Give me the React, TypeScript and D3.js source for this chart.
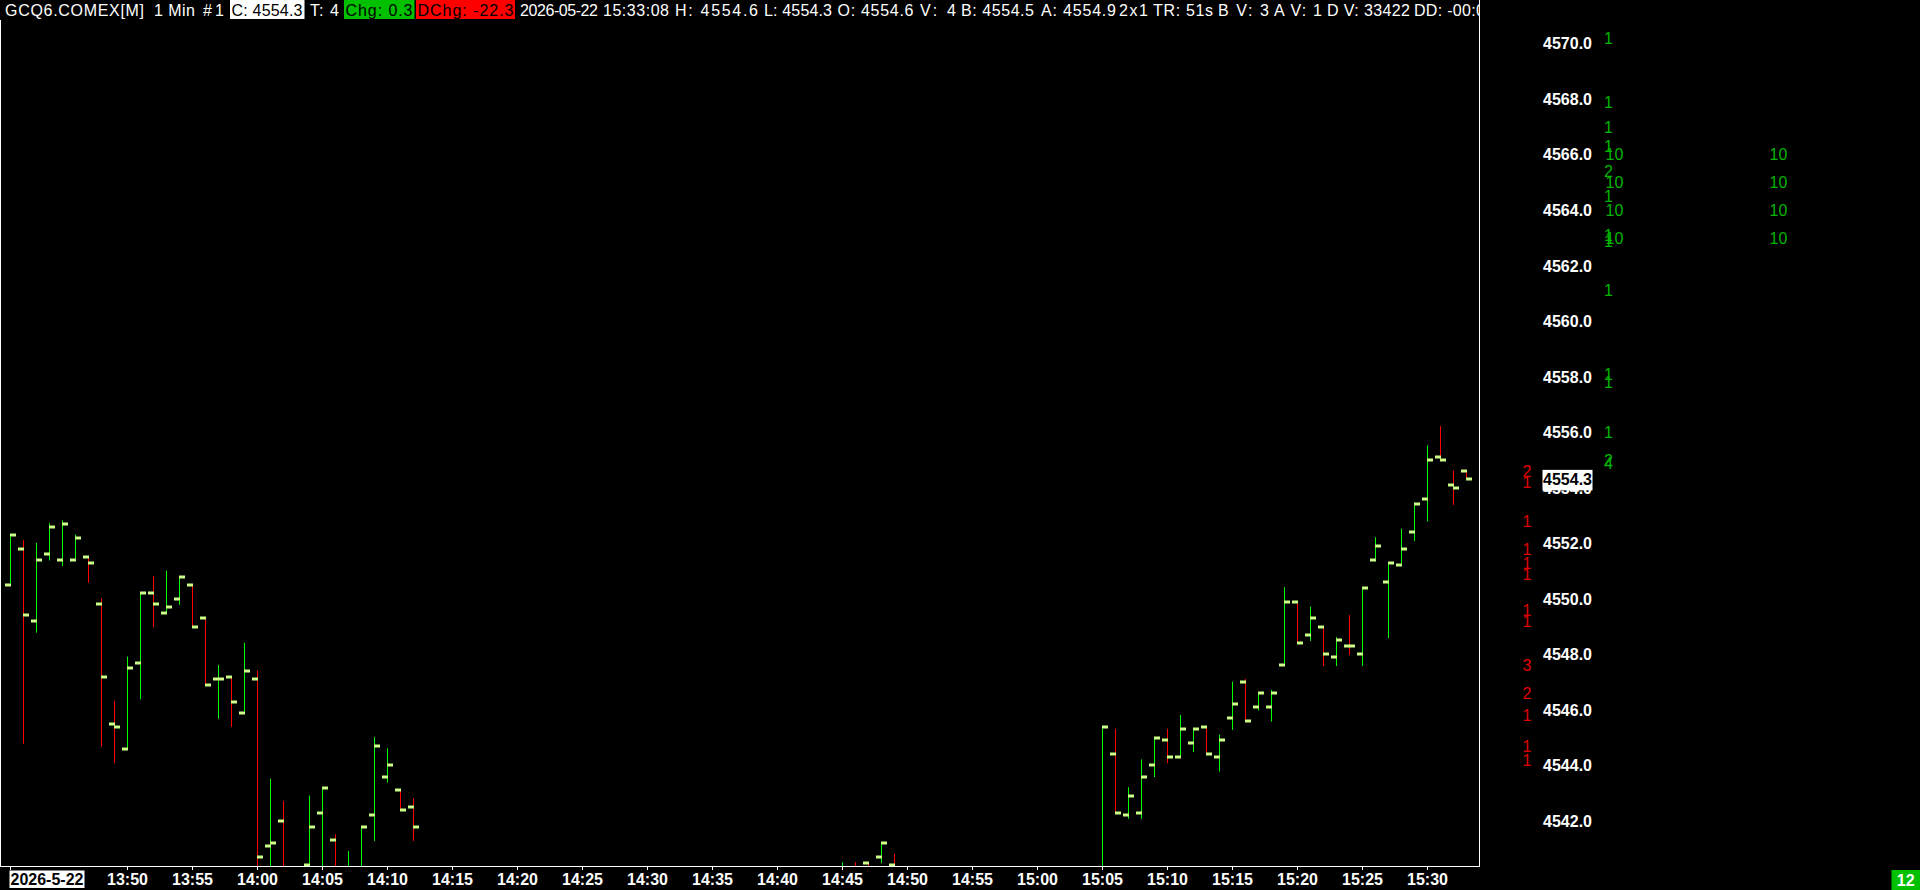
import React from 'react';
import * as d3 from 'd3';

// ---------- DATA ----------
const barTimes = [
  "13:41","13:42","13:43","13:44","13:45","13:46","13:47","13:48","13:49","13:50",
  "13:51","13:52","13:53","13:54","13:55","13:56","13:57","13:58","13:59","14:00",
  "14:01","14:02","14:04","14:05","14:06","14:07","14:08","14:09","14:10","14:11","14:12",
  "14:45","14:46","14:47","14:48","14:49",
  "15:05","15:06","15:07","15:08","15:09","15:10","15:11","15:12","15:13","15:14",
  "15:15","15:16","15:17","15:18","15:19","15:20","15:21","15:22","15:23","15:24",
  "15:25","15:26","15:27","15:28","15:29","15:30","15:31","15:32","15:33"
];
const barOpen = [
  4550.5,4551.8,4549.2,4551.6,4551.4,4551.4,4551.5,4549.8,4545.5,4544.6,
  4547.7,4550.2,4549.5,4550.0,4550.5,4549.3,4547.1,4547.2,4545.9,4547.1,
  4541.1,4542.0,4540.4,4542.3,4541.3,4540.0,4540.2,4542.2,4543.6,4543.1,4542.5,
  4540.1,4540.3,4540.5,4540.7,4540.4,
  4540.2,4544.4,4542.2,4542.3,4544.0,4544.9,4544.3,4544.8,4545.4,4544.3,
  4545.7,4547.0,4546.1,4546.1,4547.6,4549.9,4548.7,4549.0,4547.9,4548.3,
  4548.0,4551.4,4550.6,4551.2,4552.4,4553.6,4555.1,4554.1,4554.6
];
const barHigh = [
  4552.3,4552.1,4552.0,4552.7,4552.8,4552.3,4551.5,4550.0,4546.3,4547.9,
  4550.2,4550.8,4551.0,4550.8,4550.5,4549.3,4547.6,4547.2,4548.4,4547.4,
  4543.5,4542.7,4542.9,4543.2,4541.5,4540.9,4541.8,4545.0,4544.6,4543.1,4542.8,
  4540.5,4540.5,4540.5,4541.2,4540.8,
  4545.4,4545.3,4543.2,4544.2,4545.0,4545.3,4545.8,4545.3,4545.4,4545.1,
  4547.0,4547.1,4546.6,4546.7,4550.4,4549.9,4549.7,4549.0,4548.6,4549.4,
  4550.4,4552.2,4551.3,4552.5,4553.4,4555.5,4556.2,4554.6,4554.6
];
const barLow = [
  4550.5,4544.8,4548.8,4551.4,4551.2,4551.4,4550.6,4544.7,4544.1,4544.6,
  4546.4,4549.0,4549.5,4549.8,4549.0,4546.9,4545.7,4545.4,4545.9,4539.9,
  4540.0,4539.8,4540.0,4540.1,4539.9,4539.8,4540.0,4541.3,4543.4,4542.4,4541.3,
  4539.9,4539.9,4540.0,4540.5,4540.0,
  4539.8,4542.3,4542.1,4542.1,4543.6,4544.1,4544.3,4544.5,4544.4,4543.8,
  4545.3,4545.6,4546.0,4545.6,4547.6,4548.4,4548.5,4547.6,4547.6,4548.0,
  4547.6,4551.4,4548.6,4551.2,4552.1,4552.8,4555.0,4553.4,4554.3
];
const barClose = [
  4552.3,4549.4,4551.4,4552.6,4552.7,4552.2,4551.3,4547.2,4545.4,4547.5,
  4550.2,4549.8,4549.7,4550.8,4549.0,4546.9,4547.1,4546.3,4547.4,4540.7,
  4541.2,4540.1,4541.8,4543.2,4540.2,4540.3,4541.8,4544.7,4544.0,4542.4,4541.8,
  4540.3,4540.0,4540.2,4541.2,4540.2,
  4545.4,4542.3,4542.9,4543.6,4545.0,4544.3,4545.3,4545.3,4544.4,4544.9,
  4546.2,4545.6,4546.6,4546.6,4549.9,4548.4,4549.3,4548.0,4548.5,4548.3,
  4550.4,4551.9,4551.3,4551.8,4553.4,4555.0,4555.0,4554.0,4554.3
];

const priceTicks = [4542, 4544, 4546, 4548, 4550, 4552, 4554, 4556, 4558, 4560, 4562, 4564, 4566, 4568, 4570];
const timeTicks = ["13:41","13:50","13:55","14:00","14:05","14:10","14:15","14:20","14:25","14:30","14:35","14:40","14:45","14:50","14:55","15:00","15:05","15:10","15:15","15:20","15:25","15:30"];
const dateLabel = "2026-5-22";
const lastPrice = 4554.3;

const askPrices = [4570.2, 4567.9, 4567.0, 4566.3, 4565.4, 4564.5, 4563.1, 4562.9, 4561.1, 4558.1, 4557.8, 4556.0, 4555.0, 4554.9];
const askVolumes = ["1","1","1","1","2","1","1","1","1","1","1","1","2","4"];
const bidPrices = [4554.6, 4554.2, 4552.8, 4551.8, 4551.3, 4550.9, 4549.6, 4549.2, 4547.6, 4546.6, 4545.8, 4544.7, 4544.2];
const bidVolumes = ["2","1","1","1","1","1","1","1","3","2","1","1","1"];
const depthPrices = [4566.0, 4565.0, 4564.0, 4563.0];
const depthQtyA = ["10","10","10","10"];
const depthQtyB = ["10","10","10","10"];
const cornerCount = "12";

const headerTexts = [
  "GCQ6.COMEX[M]", "1 Min", "#1", "C: 4554.3", "T: 4", "Chg: 0.3", "DChg: -22.3",
  "2026-05-22", "15:33:08", "H: 4554.6", "L: 4554.3", "O: 4554.6", "V: 4",
  "B: 4554.5", "A: 4554.9", "2x1", "TR: 51s", "B V: 3", "A V: 1", "D V: 33422", "DD: -00:00"
];

// ---------- LAYOUT ----------
const W = 1920, H = 890;
const PLOT_R = 1479, PLOT_B = 866;
const FONT = '"Liberation Sans", Arial, sans-serif';
const headerX = [5, 154, 203, 231.5, 310, 345.5, 417.5, 520, 603, 675, 764, 837.5, 920, 961, 1041, 1119, 1153, 1218, 1274, 1327, 1414];
const headerW = [139, 41, 21, 71, 29, 67, 96, 78, 66, 83, 68, 76, 36, 73, 75, 29, 60, 51, 48, 83, 80];
const headerBox: Record<number, [number, number, string, string]> = {
  3: [230, 304.5, '#ffffff', '#000000'],
  5: [344, 414.5, '#00c000', '#000000'],
  6: [416, 515, '#ff0000', '#000000'],
};

const toMin = (s: string) => { const [h, m] = s.split(':').map(Number); return h * 60 + m; };

export default function App() {
  const x = d3.scaleLinear().domain([toMin("13:41"), toMin("15:33")]).range([10.5, 10.5 + 13 * 112]);
  const y = d3.scaleLinear().domain([4570, 4542]).range([43.3, 821]);
  const UP = '#00ff00', DOWN = '#ff0000', TICK = '#ccff88';

  const bars = barTimes.map((t, i) => {
    const prevC = i > 0 ? barClose[i - 1] : barOpen[i];
    const up = barClose[i] > barOpen[i] ? true : barClose[i] < barOpen[i] ? false : barClose[i] >= prevC;
    return { t, o: barOpen[i], h: barHigh[i], l: barLow[i], c: barClose[i], up };
  });

  return (
    <svg width={W} height={H} style={{ position: 'fixed', left: 0, top: 0, background: '#000', display: 'block' }}
      fontFamily={FONT}>
      <defs>
        <clipPath id="plot"><rect x={0} y={20} width={PLOT_R} height={PLOT_B - 20} /></clipPath>
        <clipPath id="head"><rect x={0} y={0} width={PLOT_R} height={20} /></clipPath>
      </defs>
      <rect x={0} y={0} width={W} height={H} fill="#000" />

      {/* bars */}
      <g clipPath="url(#plot)">
        {bars.map((b, i) => {
          const col = Math.floor(x(toMin(b.t)));
          const yH = y(b.h), yL = y(b.l);
          return (
            <g key={i}>
              <line x1={col + 0.5} x2={col + 0.5} y1={yH - 0.5} y2={Math.max(yL + 0.5, yH + 1)} stroke={b.up ? UP : DOWN} strokeWidth={1} />
              <rect x={col - 5} y={Math.round(y(b.o)) - 1.5} width={6} height={3} fill={TICK} />
              <rect x={col} y={Math.round(y(b.c)) - 1.5} width={6} height={3} fill={TICK} />
            </g>
          );
        })}
      </g>

      {/* frame */}
      <line x1={0.5} x2={0.5} y1={20} y2={PLOT_B} stroke="#fff" />
      <line x1={PLOT_R + 0.5} x2={PLOT_R + 0.5} y1={0} y2={PLOT_B + 0.5} stroke="#fff" />
      <line x1={0} x2={PLOT_R + 1} y1={PLOT_B + 0.5} y2={PLOT_B + 0.5} stroke="#fff" />

      {/* time axis */}
      {timeTicks.map((t, i) => {
        const col = Math.floor(x(toMin(t)));
        return (
          <g key={t}>
            <line x1={col + 0.5} x2={col + 0.5} y1={PLOT_B} y2={PLOT_B + 4} stroke="#fff" />
            {i > 0 && (
              <text x={col + 0.5} y={885} fill="#fff" fontSize={16} fontWeight="bold" textAnchor="middle">{t}</text>
            )}
          </g>
        );
      })}
      <rect x={9.5} y={870.5} width={75} height={17.5} fill="#fff" />
      <text x={10.5} y={885} fill="#000" fontSize={16} fontWeight="bold">{dateLabel}</text>

      {/* price axis */}
      {priceTicks.map(p => (
        <text key={p} x={1592} y={y(p) + 6} fill="#fff" fontSize={16} fontWeight="bold" textAnchor="end">{p.toFixed(1)}</text>
      ))}
      <rect x={1542.5} y={y(lastPrice) - 9.5} width={50} height={20.5} fill="#fff" />
      <text x={1592} y={y(lastPrice) + 6} fill="#000" fontSize={16} fontWeight="bold" textAnchor="end">{lastPrice.toFixed(1)}</text>

      {/* bid / ask volumes */}
      {bidPrices.map((p, i) => (
        <text key={'b' + i} x={1522.5} y={y(p) + 6} fill="#e00000" fontSize={16}>{bidVolumes[i]}</text>
      ))}
      {askPrices.map((p, i) => (
        <text key={'a' + i} x={1604} y={y(p) + 6} fill="#00b400" fontSize={16}>{askVolumes[i]}</text>
      ))}
      {depthPrices.map((p, i) => (
        <g key={'d' + i}>
          <text x={1605.5} y={y(p) + 6} fill="#00b400" fontSize={16}>{depthQtyA[i]}</text>
          <text x={1769.5} y={y(p) + 6} fill="#00b400" fontSize={16}>{depthQtyB[i]}</text>
        </g>
      ))}

      {/* corner counter */}
      <rect x={1891.5} y={870} width={28.5} height={20} fill="#00c000" />
      <text x={1905.75} y={886} fill="#fff" fontSize={16} fontWeight="bold" textAnchor="middle">{cornerCount}</text>

      {/* header */}
      <g clipPath="url(#head)">
        {headerTexts.map((s, i) => {
          const box = headerBox[i];
          return (
            <g key={'h' + i}>
              {box && <rect x={box[0]} y={0} width={box[1] - box[0]} height={19} fill={box[2]} />}
              <text x={headerX[i]} y={15.5} fill={box ? box[3] : '#fff'} fontSize={16}
                textLength={headerW[i]} lengthAdjust="spacing">{s}</text>
            </g>
          );
        })}
      </g>
    </svg>
  );
}
